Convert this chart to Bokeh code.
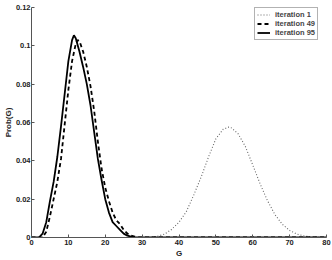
from bokeh.plotting import figure
from bokeh.models import FixedTicker, Legend, LegendItem
from bokeh.embed import file_html
from bokeh.resources import INLINE

# ---- data ----
g_iter1 = [0, 30, 32, 34, 36, 38, 40, 42, 44, 46, 48, 50, 52, 53.5, 54, 56, 58, 60, 62, 64, 66, 68, 70, 72, 74, 76, 78, 80]
p_iter1 = [0, 0, 0.0001, 0.0006, 0.0017, 0.0042, 0.0080, 0.0135, 0.0222, 0.0315, 0.0420, 0.0515, 0.0565, 0.0576, 0.0575,
           0.0542, 0.0475, 0.0378, 0.0280, 0.0192, 0.0120, 0.0069, 0.0037, 0.0018, 0.0008, 0.0003, 0.0001, 0]

g_iter49 = [0, 1, 2, 3, 4, 5, 6, 7, 8, 9, 10, 11, 12, 12.5, 13, 14, 15, 16, 17, 18, 19, 20, 21, 22, 23, 24, 25, 26, 27, 28, 29, 80]
p_iter49 = [0, 0, 0, 0, 0.003, 0.011, 0.020, 0.029, 0.041, 0.059, 0.077, 0.092, 0.101, 0.103, 0.1025, 0.097, 0.089,
            0.079, 0.066, 0.050, 0.036, 0.026, 0.019, 0.013, 0.009, 0.007, 0.004, 0.002, 0.001, 0.0005, 0, 0]

g_iter95 = [0, 1, 2, 3, 4, 5, 6, 7, 8, 9, 10, 11, 11.5, 12, 13, 14, 15, 16, 17, 18, 19, 20, 21, 22, 23, 24, 25, 26, 27, 28, 80]
p_iter95 = [0, 0, 0, 0.002, 0.008, 0.019, 0.029, 0.042, 0.058, 0.075, 0.092, 0.103, 0.1055, 0.104, 0.097, 0.089, 0.080,
            0.069, 0.055, 0.041, 0.030, 0.020, 0.013, 0.008, 0.006, 0.004, 0.002, 0.001, 0.0005, 0, 0]

x_ticks = [0, 10, 20, 30, 40, 50, 60, 70, 80]
y_ticks = [0, 0.02, 0.04, 0.06, 0.08, 0.1, 0.12]
y_tick_labels = ["0", "0.02", "0.04", "0.06", "0.08", "0.1", "0.12"]
series_names = ["iteration 1", "iteration 49", "iteration 95"]

FONT = "Liberation Sans"

p = figure(width=332, height=260, x_range=(0, 80), y_range=(0, 0.12),
           output_backend="svg", toolbar_location=None,
           min_border_left=31, min_border_right=6, min_border_top=7, min_border_bottom=21)
p.outline_line_color = None
p.border_fill_color = "white"
p.grid.visible = False
p.background_fill_color = "white"

r1 = p.line(g_iter1, p_iter1, line_color="#666666", line_width=1.1, line_dash="1 2")
r49 = p.line(g_iter49, p_iter49, line_color="black", line_width=1.8, line_dash="4 3")
r95 = p.line(g_iter95, p_iter95, line_color="black", line_width=1.8)

for ax in (p.xaxis[0], p.yaxis[0]):
    ax.axis_line_color = "#555555"
    ax.major_tick_line_color = "#555555"
    ax.minor_tick_line_color = None
    ax.major_tick_in = 3
    ax.major_tick_out = 0
    ax.major_label_text_font = FONT
    ax.major_label_text_font_style = "bold"
    ax.major_label_text_font_size = "7.5px"
    ax.major_label_text_color = "#222222"
    ax.axis_label_text_font = FONT
    ax.axis_label_text_font_style = "bold"
    ax.axis_label_text_font_size = "8px"
    ax.axis_label_text_color = "#222222"
    ax.major_label_standoff = 2
    ax.axis_label_standoff = 1

p.yaxis.major_label_standoff = 1
p.yaxis.axis_label_standoff = 0

p.xaxis.ticker = FixedTicker(ticks=x_ticks)
p.yaxis.ticker = FixedTicker(ticks=y_ticks)
p.yaxis.major_label_overrides = {t: l for t, l in zip(y_ticks, y_tick_labels)}
p.xaxis.axis_label = "G"
p.yaxis.axis_label = "Prob(G)"

legend = Legend(items=[LegendItem(label=series_names[0], renderers=[r1]),
                       LegendItem(label=series_names[1], renderers=[r49]),
                       LegendItem(label=series_names[2], renderers=[r95])],
                location=(223, 197))
legend.label_text_font = FONT
legend.label_text_font_style = "bold"
legend.label_text_font_size = "7.5px"
legend.label_height = 9
legend.glyph_height = 9
legend.glyph_width = 13
legend.label_standoff = 5
legend.spacing = 0
legend.padding = 2
legend.margin = 0
legend.border_line_color = "#666666"
legend.border_line_width = 1
legend.background_fill_alpha = 1
p.add_layout(legend)

open("out.html", "w").write(file_html(p, INLINE))
